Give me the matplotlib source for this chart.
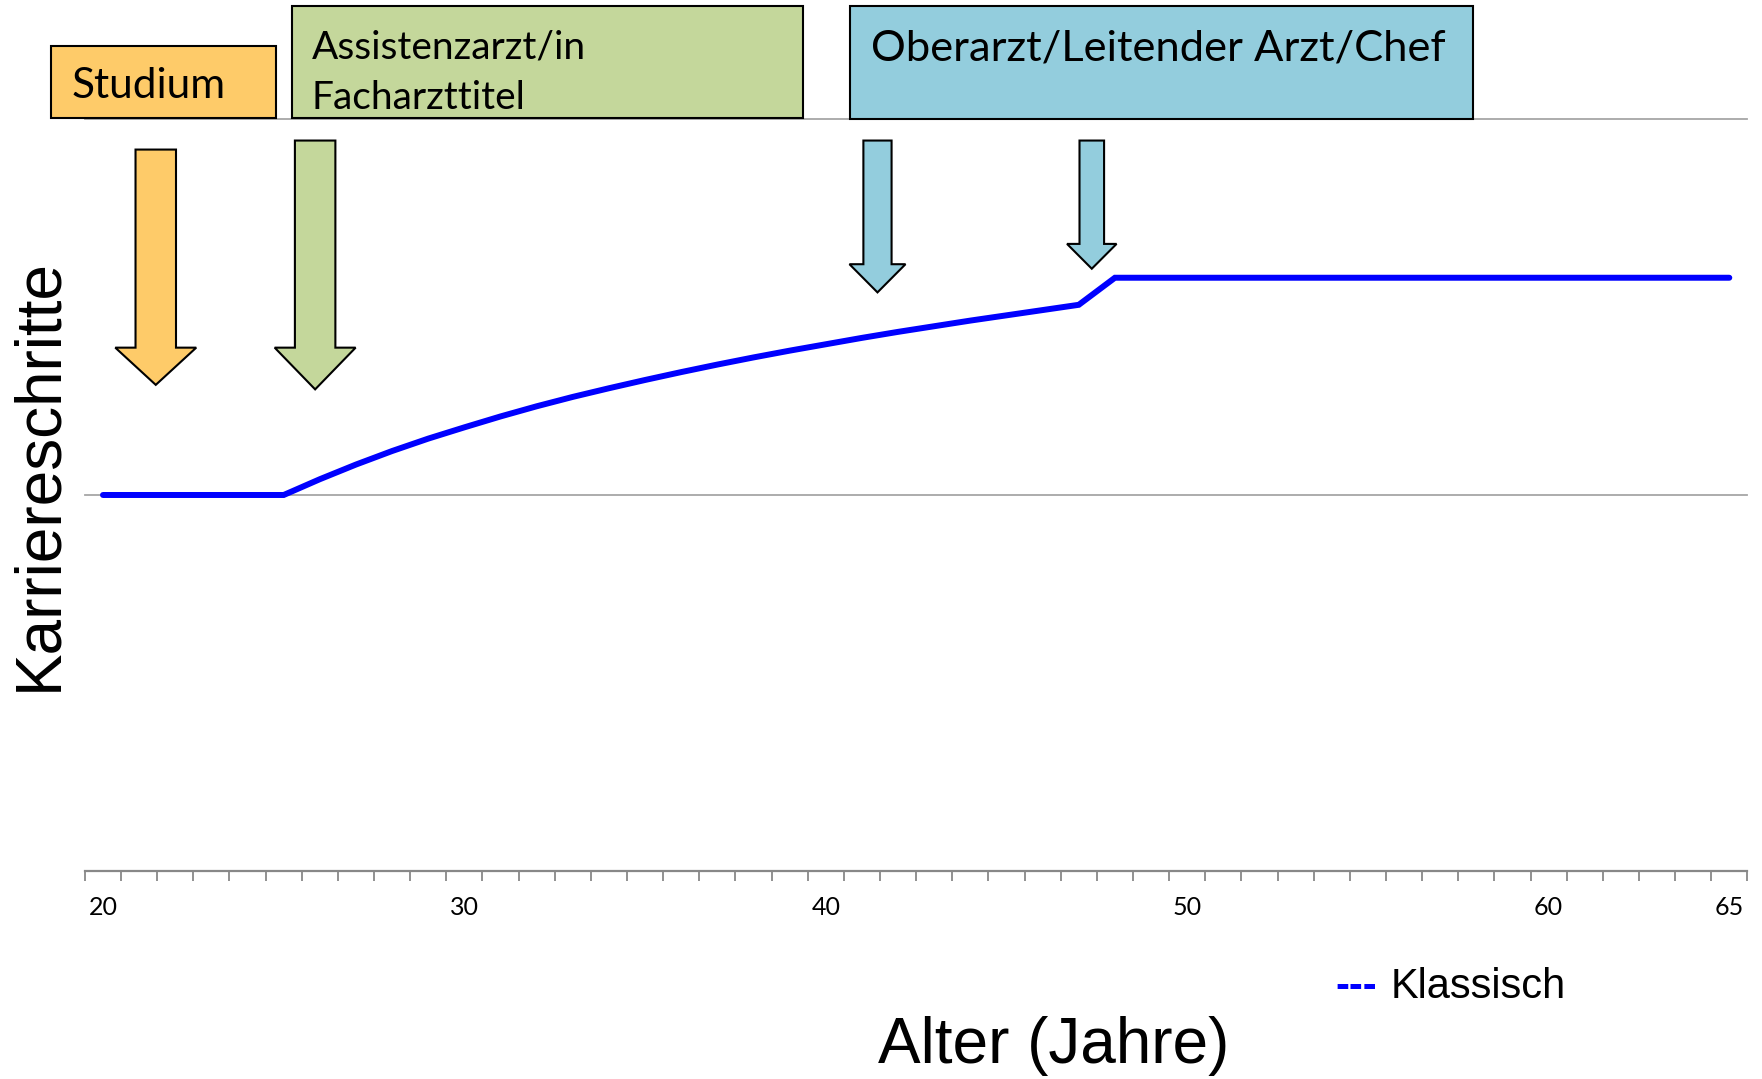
import matplotlib
matplotlib.use("Agg")
import matplotlib.pyplot as plt
from matplotlib.patches import Rectangle, FancyArrow

# Data: career steps over age (classic path)
ages = [20, 25, 26, 27, 28, 29, 30, 31, 32, 33, 34, 35, 36, 37, 38, 39,
        40, 41, 42, 43, 44, 45, 46, 47, 48, 65]
karriere = [1.0, 1.0, 1.042, 1.081, 1.117, 1.150, 1.180, 1.209, 1.236, 1.261,
            1.284, 1.306, 1.327, 1.347, 1.366, 1.384, 1.401, 1.418, 1.434,
            1.449, 1.464, 1.478, 1.492, 1.506, 1.578, 1.578]
tick_ages = [20, 30, 40, 50, 60, 65]
tick_labels = ["20", "30", "40", "50", "60", "65"]

# phase boxes above the chart
phase_labels = ["Studium", "Assistenzarzt/in\nFacharzttitel", "Oberarzt/Leitender Arzt/Chef"]
phase_colors = ["#FECB69", "#C4D79B", "#93CDDD"]
box_x = [(18.57, 24.78), (25.22, 39.38), (40.68, 57.92)]
box_y = [(2.003, 2.195), (2.003, 2.302), (2.000, 2.302)]
text_pos = [(19.13, 2.087, 30.5), (25.78, 2.123, 28), (41.24, 2.187, 31.3)]

# arrows: center age, top, head base, tip, shaft width, head width, color
arrows = [
    (21.46, 1.919, 1.392, 1.293, 1.12, 2.24, "#FECB69"),
    (25.87, 1.943, 1.392, 1.281, 1.12, 2.24, "#C4D79B"),
    (41.43, 1.943, 1.614, 1.539, 0.78, 1.55, "#93CDDD"),
    (47.36, 1.943, 1.668, 1.602, 0.68, 1.37, "#93CDDD"),
]

fig = plt.figure(figsize=(17.62, 10.79), dpi=100)
ax = fig.add_axes([0.0482, 0.1929, 0.9435, 0.6967])

ax.plot(ages, karriere, color="#0000FF", linewidth=4.3, solid_capstyle="round",
        solid_joinstyle="miter", zorder=3)

ax.set_xlim(19.5, 65.5)
ax.set_ylim(0, 2)

# gridlines at 1 and 2
ax.set_yticks([1, 2])
ax.yaxis.grid(True, color="#A6A6A6", linewidth=1.3)
for gl in ax.get_ygridlines():
    gl.set_clip_on(False)
ax.tick_params(axis="y", length=0, labelleft=False)

# x axis: tick marks between categories, labels on some years
ax.set_xticks(tick_ages)
ax.set_xticklabels(tick_labels, fontsize=18, family="Lato")
ax.set_xticks([a + 0.5 for a in range(19, 66)], minor=True)
ax.tick_params(axis="x", which="major", length=0, pad=18)
ax.tick_params(axis="x", which="minor", length=7, width=1.3, color="#888888", direction="out")

for side in ["top", "right", "left"]:
    ax.spines[side].set_visible(False)
ax.spines["bottom"].set_color("#888888")
ax.spines["bottom"].set_linewidth(1.6)

# boxes
for i in range(len(phase_labels)):
    x0, x1 = box_x[i]
    y0, y1 = box_y[i]
    ax.add_patch(Rectangle((x0, y0), x1 - x0, y1 - y0, facecolor=phase_colors[i],
                           edgecolor="black", linewidth=1.5, clip_on=False, zorder=4))
    tx, ty, fs = text_pos[i]
    ax.text(tx, ty, phase_labels[i], fontsize=fs, family="Lato", ha="left", va="center",
            linespacing=1.5, zorder=5, clip_on=False)

# arrows
for cx, top, base, tip, w, hw, col in arrows:
    ax.add_patch(FancyArrow(cx, top, 0, tip - top, width=w, head_width=hw,
                            head_length=base - tip, length_includes_head=True,
                            facecolor=col, edgecolor="black", linewidth=1.5,
                            clip_on=False, zorder=4))

fig.text(0.0221, 0.560, "Karriereschritte", rotation=90, fontsize=46,
         family="Liberation Sans", ha="center", va="center")
fig.text(0.598, 0.031, "Alter (Jahre)", fontsize=46, family="Liberation Sans",
         ha="center", va="center")
fig.text(0.7577, 0.0853, "---", fontsize=30, family="Liberation Sans", color="#0000FF",
         ha="left", va="center", fontweight="bold")
fig.text(0.789, 0.0853, "Klassisch", fontsize=30, family="Liberation Sans",
         ha="left", va="center")

fig.savefig("out.png", dpi=100)
